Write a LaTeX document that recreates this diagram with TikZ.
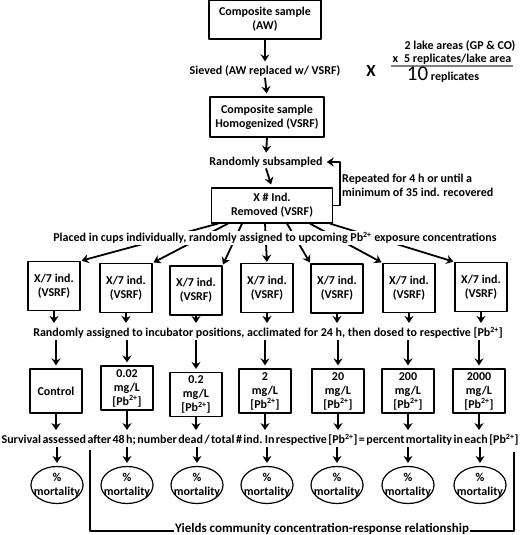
\documentclass[tikz,border=0pt]{standalone}
\usepackage{fontspec}
\setmainfont{Carlito}
\usetikzlibrary{arrows.meta,shapes.geometric}
\newcommand{\pbconc}{[Pb\textsuperscript{2+}]}
\begin{document}
\begin{tikzpicture}[x=1pt, y=-1pt, font=\fontsize{12}{14}\selectfont\bfseries, line join=round, >={Stealth[length=7pt,width=9pt]},
	box/.style={draw, line width=1.2pt, align=center, inner sep=1pt},
	oval/.style={draw, ellipse, line width=1.2pt, align=center, inner xsep=-5pt, inner ysep=0pt, minimum width=52pt, minimum height=37pt},
	arr/.style={->, line width=1.8pt, shorten >=3pt},
	lbl/.style={inner sep=1pt}]
	\useasboundingbox (0,0) rectangle (520,535);
	% sample preparation
	\node[box, minimum width=112pt, minimum height=39pt] (aw) at (265,19.5) {Composite sample\\(AW)};
	\node[lbl] (sieve) at (265,71) {Sieved (AW replaced w/ VSRF)};
	\node[box, minimum width=114pt, minimum height=40pt] (homog) at (267,117) {Composite sample\\Homogenized (VSRF)};
	\node[lbl] (subs) at (266,162) {Randomly subsampled};
	\node[box, minimum width=121pt, minimum height=35pt] (rem) at (272,205.5) {X \# Ind.\\Removed (VSRF)};
	\node[lbl, anchor=west, align=left] (rep) at (341,185) {Repeated for 4 h or until a\\minimum of 35 ind. recovered};
	\draw[arr] (aw.south) -- (sieve.north);
	\draw[arr] (sieve.south) -- (homog.north);
	\draw[arr] (homog.south) -- (subs.north);
	\draw[arr] (subs.south) -- (rem.north);
	\draw[arr] (rem.east) -- ++(7,0) |- (subs.east);
	% replicates
	\node[lbl] (times) at (371,71) {\fontsize{17}{17}\selectfont X};
	\node[lbl] (lakes) at (460,46) {2 lake areas (GP \& CO)};
	\node[lbl] (reps) at (452,59.5) {x\hspace{0.5em}5 replicates/lake area};
	\draw[gray, line width=1.5pt] (reps.south west) -- (reps.south east);
	\node[lbl] (ten) at (443,75) {{\fontsize{21}{21}\selectfont\mdseries 10} replicates};
	% cups
	\foreach \i/\x/\y in {1/54/286, 2/126/288, 3/196/290.5, 4/267/288, 5/337/288.5, 6/409/288, 7/481/287}
		\node[box, minimum width=52pt, minimum height=49pt] (c\i) at (\x,\y) {X/7 ind.\\(VSRF)};
	\foreach \i/\s/\a in {1/-54/north east, 2/-44/north east, 3/-30/north east, 4/-7/north, 5/15/north west, 6/38/north west, 7/58/north west}
		\draw[arr, shorten >=1pt] ([xshift=\s pt]rem.south) -- (c\i.\a);
	\node[lbl, fill=white] (cups) at (275,238) {Placed in cups individually, randomly assigned to upcoming Pb\textsuperscript{2+} exposure concentrations};
	\node[lbl] (incub) at (268,333) {Randomly assigned to incubator positions, acclimated for 24 h, then dosed to respective \pbconc};
	% doses
	\foreach \i/\x/\y/\t in {1/56/391/Control, 2/127/388/0.02, 3/196/394.5/0.2, 4/265/391/2, 5/338/391/20, 6/408/391/200, 7/479/391/2000}{
		\ifnum\i=1
			\node[box, minimum width=52pt, minimum height=44pt] (d\i) at (\x,\y) {\t};
		\else
			\node[box, minimum width=52pt, minimum height=44pt] (d\i) at (\x,\y) {\t\\mg/L\\ \pbconc};
		\fi
	}
	\node[lbl] (surv) at (260,440) {\spaceskip=0.12em Survival assessed after 48 h; number dead / total \# ind. In respective \pbconc{} = percent mortality in each \pbconc};
	% mortality
	\foreach \i/\x in {1/57, 2/127, 3/197, 4/267, 5/337, 6/408, 7/480}
		\node[oval] (m\i) at (\x,485) {\%\\mortality};
	\foreach \i in {1,...,7}{
		\draw[arr] (c\i.south) -- (c\i.south |- incub.north);
		\draw[arr] (d\i.north |- incub.south) -- (d\i.north);
		\draw[arr] (d\i.south) -- (d\i.south |- surv.north);
		\draw[arr] (m\i.north |- surv.south) -- (m\i.north);
	}
	\node[lbl] (yield) at (322,529) {\fontsize{13}{14}\selectfont Yields community concentration-response relationship};
	\coordinate (bl) at (90,450);
	\coordinate (br) at (514,452);
	\draw[line width=1.8pt] (bl) |- ([yshift=-2pt]yield.west);
	\draw[line width=2.5pt] ([yshift=-2pt]yield.east) -| (br);
\end{tikzpicture}
\end{document}
